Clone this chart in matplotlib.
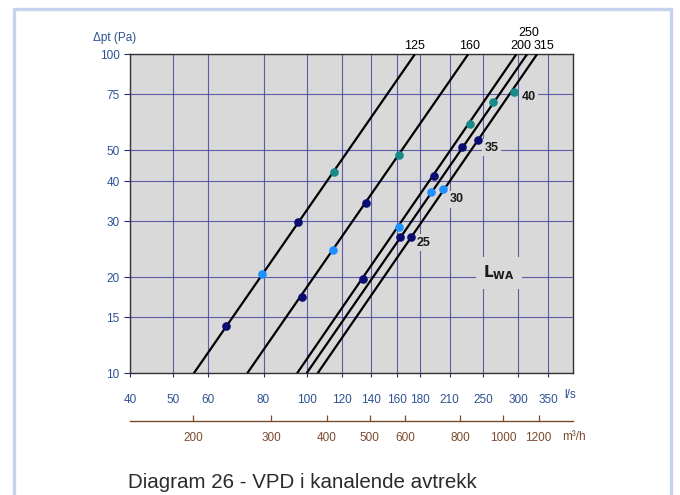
import matplotlib
matplotlib.use("Agg")
import matplotlib.pyplot as plt
from matplotlib.lines import Line2D
from matplotlib.ticker import FixedLocator, NullLocator, FixedFormatter

plt.rcParams['font.family'] = ['Liberation Sans', 'DejaVu Sans']

# ---- data ----
duct_sizes = ['125', '160', '200', '250', '315']
line_q_at_10pa = [55.7, 73.5, 95.2, 100.0, 105.9]     # l/s where dp = 10 Pa
line_q_at_100pa = [175.4, 231.3, 297.0, 314.0, 330.7]  # l/s where dp = 100 Pa
line_dp_ends = [10, 100]

lwa_levels = [25, 30, 35, 40]
q125 = [66.0, 79.5, 95.7, 115.2]
dp125 = [14.1, 20.5, 29.7, 42.9]
q160 = [97.6, 114.7, 136.3, 161.8]
dp160 = [17.3, 24.3, 34.3, 48.3]
q200 = [133.8, 161.5, 193.9, 234.0]
dp200 = [19.75, 28.8, 41.6, 60.5]
q250 = [162.1, 191.2, 224.5, 262.5]
dp250 = [26.8, 37.0, 51.2, 70.7]
q315 = [171.8, 202.6, 244.0, 293.0]
dp315 = [26.8, 37.7, 53.8, 76.3]

x_ticks = [40, 50, 60, 80, 100, 120, 140, 160, 180, 210, 250, 300, 350]
y_ticks = [10, 15, 20, 30, 40, 50, 75, 100]
m3h_ticks = [200, 300, 400, 500, 600, 800, 1000, 1200]

# ---- style ----
blue_txt = '#2d5193'
grid_col = '#4646a0'
brown = '#7a4a2e'
bg = '#d9d9d9'
level_colors = {25: '#0b0b72', 30: '#1e90ff', 35: '#0b0b72', 40: '#178a8a'}

fig = plt.figure(figsize=(6.8, 4.95), dpi=100)
ax = fig.add_axes([130 / 680, 1 - 373.3 / 495, (572.7 - 130) / 680, (373.3 - 54.3) / 495])
ax.set_facecolor(bg)
ax.set_xscale('log')
ax.set_yscale('log')
ax.set_xlim(40, 398)
ax.set_ylim(10, 100)

ax.xaxis.set_major_locator(FixedLocator(x_ticks))
ax.xaxis.set_major_formatter(FixedFormatter([str(t) for t in x_ticks]))
ax.xaxis.set_minor_locator(NullLocator())
ax.yaxis.set_major_locator(FixedLocator(y_ticks))
ax.yaxis.set_major_formatter(FixedFormatter([str(t) for t in y_ticks]))
ax.yaxis.set_minor_locator(NullLocator())

ax.grid(True, color=grid_col, lw=0.8, alpha=0.85, zorder=1)
ax.set_axisbelow(True)
ax.tick_params(axis='x', direction='out', length=3, width=0.8, color='#2a2a80',
               labelsize=8.5, labelcolor=blue_txt, pad=12)
ax.tick_params(axis='y', direction='out', length=4.5, width=0.8, color='#2a2a80',
               labelsize=8.5, labelcolor=blue_txt, pad=3)
for s in ax.spines.values():
    s.set_color('#333333')
    s.set_linewidth(1.0)

# duct lines
for name, q0, q1 in zip(duct_sizes, line_q_at_10pa, line_q_at_100pa):
    ax.plot([q0, q1], line_dp_ends, color='black', lw=1.6, zorder=3, solid_capstyle='butt')

label_offsets = {'125': (0, 6), '160': (1, 6), '200': (3, 6), '250': (1, 15), '315': (5, 6)}
for name, q1 in zip(duct_sizes, line_q_at_100pa):
    dx, dy = label_offsets[name]
    ax.annotate(name, (q1, 100), xytext=(dx, dy), textcoords='offset points',
                ha='center', va='center', fontsize=9, color='black', annotation_clip=False)

# dots
for qs, dps in [(q125, dp125), (q160, dp160), (q200, dp200), (q250, dp250), (q315, dp315)]:
    for q, dp, lv in zip(qs, dps, lwa_levels):
        ax.plot(q, dp, 'o', ms=6.2, color=level_colors[lv], mec='none', zorder=7)

lvl_offsets = {25: (4.5, -4.5), 30: (5, -7), 35: (4.5, -5.5), 40: (5.5, -4)}
for q, dp, lv in zip(q315, dp315, lwa_levels):
    dx, dy = lvl_offsets[lv]
    ax.annotate(str(lv), (q, dp), xytext=(dx, dy), textcoords='offset points',
                ha='left', va='center', fontsize=9, fontweight='bold', color='#1a1a1a',
                bbox=dict(boxstyle='square,pad=0.2', fc=bg, ec='none'), zorder=5)

ax.text(0.833, 0.315, r'$\mathbf{L}_{\mathbf{WA}}$', transform=ax.transAxes,
        ha='center', va='center', fontsize=11, color='#1a1a1a',
        bbox=dict(boxstyle='square,pad=0.45', fc=bg, ec='none'), zorder=5)

# secondary m3/h axis
sec = ax.secondary_xaxis(-0.1495, functions=(lambda x: x * 3.6, lambda x: x / 3.6))
sec.xaxis.set_major_locator(FixedLocator(m3h_ticks))
sec.xaxis.set_major_formatter(FixedFormatter([str(t) for t in m3h_ticks]))
sec.xaxis.set_minor_locator(NullLocator())
sec.tick_params(axis='x', direction='in', length=4, width=0.9, color=brown,
                labelsize=8.5, labelcolor=brown, pad=8)
sec.spines['bottom'].set_color(brown)
sec.spines['bottom'].set_linewidth(1.0)

# texts
fig.text(93 / 680, 1 - 38.5 / 495, 'Δpt (Pa)', ha='left', va='center', fontsize=8.5, color=blue_txt)
fig.text(564 / 680, 1 - 395 / 495, 'l/s', ha='left', va='center', fontsize=8.5, color=blue_txt)
fig.text(562 / 680, 1 - 437 / 495, 'm³/h', ha='left', va='center', fontsize=8.5, color=brown)
fig.text(128 / 680, 1 - 482 / 495, 'Diagram 26 - VPD i kanalende avtrekk', ha='left', va='center',
         fontsize=14.8, color='#2b2b2b')

# light blue frame
frame_col = '#c7d3ee'
fig.add_artist(Line2D([13.5 / 680, 13.5 / 680, 671 / 680, 671 / 680],
                      [0, 1 - 8.5 / 495, 1 - 8.5 / 495, 0],
                      transform=fig.transFigure, color=frame_col, lw=2.4))

fig.savefig('out.png', dpi=100)
